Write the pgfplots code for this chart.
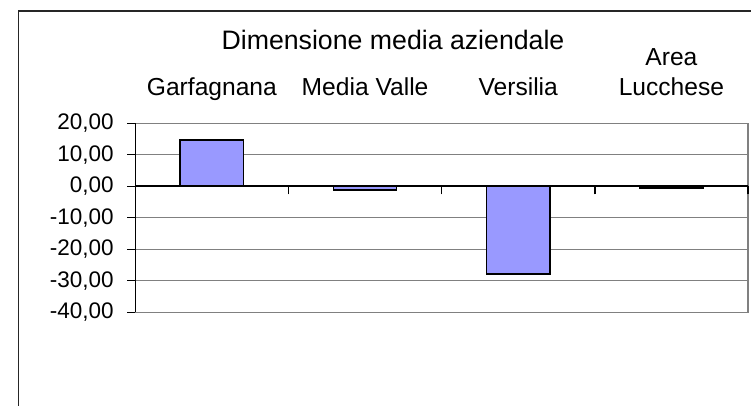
\documentclass[border=0pt]{standalone}
\usepackage{pgfplots}
\pgfplotsset{compat=1.18}
\usepackage{fontspec}
\setmainfont{Liberation Sans}
\definecolor{barfill}{HTML}{9999FF}
\definecolor{gridgray}{HTML}{808080}
\begin{document}
\begin{tikzpicture}
\useasboundingbox (0,0) rectangle (751bp,-406bp);
\draw[line width=1.2bp, black!85] (18.3bp,-406bp) -- (18.3bp,-11bp) -- (752bp,-11bp);
\node[anchor=base, font=\fontsize{26.7bp}{31bp}\selectfont] at (393bp,-49.3bp) {Dimensione media aziendale};
% main axis: frame, grid, bars, category labels on top
\begin{axis}[
  at={(135.3bp,-312.3bp)}, anchor=south west,
  width=612.7bp, height=189bp, scale only axis,
  xmin=0.5, xmax=4.5, ymin=-40, ymax=20,
  ytick={-40,-30,-20,-10,0,10,20},
  yticklabels={},
  y tick style={draw=none},
  xtick={1,2,3,4},
  xticklabels={Garfagnana,Media Valle,Versilia,{\begin{tabular}[b]{@{}c@{}}Area\\Lucchese\end{tabular}}},
  xticklabel pos=upper,
  x tick style={draw=none},
  xticklabel style={anchor=base, yshift=28.3bp, inner sep=0pt, font=\fontsize{24.6bp}{29.3bp}\selectfont},
  ymajorgrids,
  grid style={gridgray, line width=1bp},
  axis line style={gridgray, line width=1.5bp},
  clip=false,
]
\addplot[ybar, bar width=0.4135, fill=barfill, draw=black, line width=1.5bp]
  coordinates {(1,14.7) (2,-1.2) (3,-27.9) (4,-0.5)};
\end{axis}
% overlay axis: y axis line with ticks and labels, x axis at zero with boundary ticks
\begin{axis}[
  at={(135.3bp,-312.3bp)}, anchor=south west,
  width=612.7bp, height=189bp, scale only axis,
  xmin=0.5, xmax=4.5, ymin=-40, ymax=20,
  axis x line*=middle, axis y line*=left,
  axis line style={black, line width=1.3bp, -},
  x axis line style={line width=1.8bp},
  ytick={-40,-30,-20,-10,0,10,20},
  xtick={0.5,1.5,2.5,3.5,4.5},
  xticklabels={},
  major tick length=8bp,
  x tick style={black, line width=1.5bp, yshift=-4bp},
  y tick style={black, line width=1bp, xshift=-4bp},
  tick align=center,
  yticklabel style={anchor=east, inner sep=0pt, xshift=-17.5bp, font=\fontsize{22.5bp}{26bp}\selectfont},
  /pgf/number format/.cd, fixed, fixed zerofill, precision=2, use comma, 1000 sep={}, assume math mode=true,
]
\addplot[draw=none] coordinates {(1,0)};
\end{axis}
\end{tikzpicture}
\end{document}
